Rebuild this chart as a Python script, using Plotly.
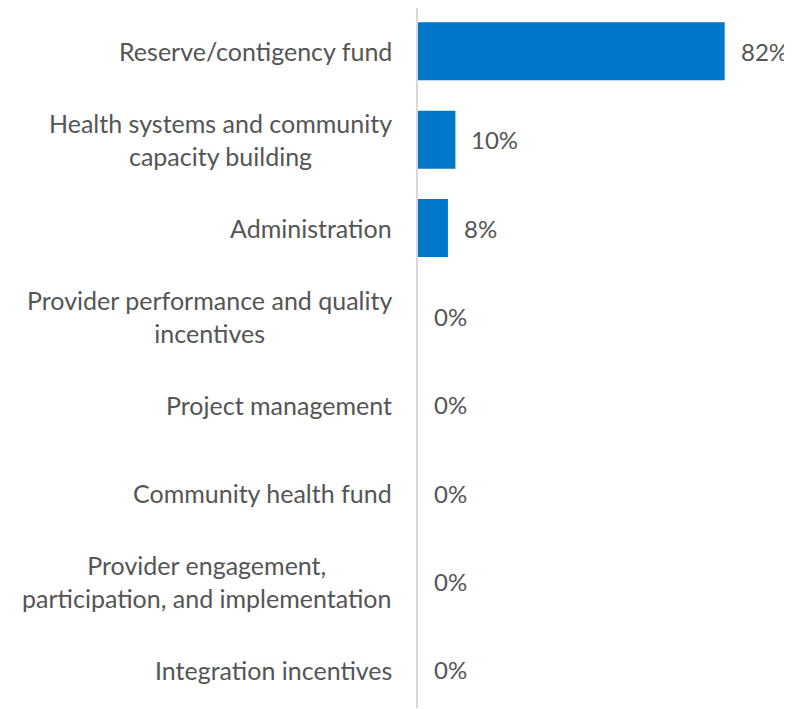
import plotly.graph_objects as go

categories = [
    "Reserve/contigency fund",
    "Health systems and community<br>capacity building",
    "Administration",
    "Provider performance and quality<br>incentives",
    "Project management",
    "Community health fund",
    "Provider engagement,<br>participation, and implementation",
    "Integration incentives",
]
values = [82, 10, 8, 0, 0, 0, 0, 0]
value_labels = ["82%", "10%", "8%", "0%", "0%", "0%", "0%", "0%"]

FONT = "Lato, 'Open Sans', sans-serif"
TXT = "#555555"
FS = 25

fig = go.Figure()
fig.add_trace(go.Bar(
    y=list(range(len(categories))),
    x=values,
    orientation="h",
    marker=dict(color="#0077C8", line=dict(width=0)),
    hoverinfo="skip",
))

ann = []
for i, (c, v, lab) in enumerate(zip(categories, values, value_labels)):
    ann.append(dict(x=0, xref="paper", y=i, yref="y", text=c, showarrow=False,
                    xanchor="right", yanchor="middle", align="center", xshift=-24,
                    font=dict(family=FONT, size=FS, color=TXT)))
    ann.append(dict(x=v, xref="x", y=i, yref="y", text=lab, showarrow=False,
                    xanchor="left", yanchor="middle", xshift=14,
                    font=dict(family=FONT, size=24, color=TXT)))

fig.update_layout(
    width=784, height=700,
    margin=dict(l=410, r=0, t=0, b=0),
    plot_bgcolor="white", paper_bgcolor="white",
    bargap=0.344,
    showlegend=False,
    annotations=ann,
    xaxis=dict(range=[0, 100], showgrid=False, zeroline=False, showticklabels=False,
               showline=False, fixedrange=True),
    yaxis=dict(range=[7.43, -0.49], showgrid=False, zeroline=False, showticklabels=False,
               showline=True, linecolor="#d9d9d9", linewidth=2, ticks="",
               fixedrange=True),
)
fig.write_html("out.html")
